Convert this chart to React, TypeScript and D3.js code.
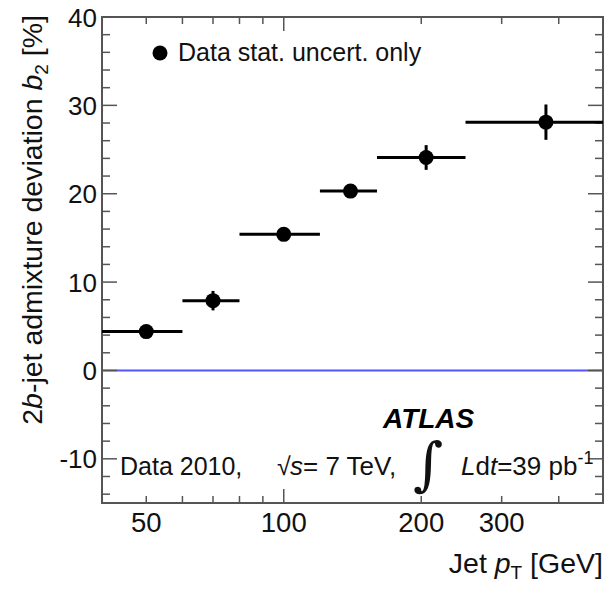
import React from "react";
import * as d3 from "d3";

const binLow = [40, 60, 80, 120, 160, 250];
const binHigh = [60, 80, 120, 160, 250, 500];
const ptCenter = [50, 70, 100, 140, 205, 375];
const b2Values = [4.4, 7.9, 15.4, 20.3, 24.1, 28.1];
const b2Errors = [0.7, 1.1, 0.6, 0.6, 1.4, 2.0];
const xTickLabels = [50, 100, 200, 300];
const xMinorTicks = [50, 60, 70, 80, 90, 200, 300, 400];
const xMajorTicks = [100];
const yLabels = [-10, 0, 10, 20, 30, 40];

const W = 606;
const H = 590;
const L = 102, R = 603, T = 17, B = 503;
const FONT = "'Liberation Sans', Arial, Helvetica, sans-serif";
const AX = "#555";

export default function App() {
  const x = d3.scaleLog().domain([40, 500]).range([L, R]);
  const y = d3.scaleLinear().domain([-15, 40]).range([B, T]);
  const yTicks = d3.range(-14, 41, 2);

  return (
    <svg width={W} height={H} style={{ position: "absolute", left: 0, top: 0 }} fontFamily={FONT}>
      <rect x={0} y={0} width={W} height={H} fill="#fff" />
      {/* zero line */}
      <line x1={L} x2={R} y1={y(0)} y2={y(0)} stroke="#5252ff" strokeWidth={2} />
      {/* frame */}
      <rect x={L} y={T} width={R - L} height={B - T} fill="none" stroke={AX} strokeWidth={2} />
      {/* y ticks */}
      {yTicks.map((v) => {
        const len = v % 10 === 0 ? 15 : 8;
        return (
          <g key={"yt" + v}>
            <line x1={L} x2={L + len} y1={y(v)} y2={y(v)} stroke={AX} strokeWidth={1.5} />
            <line x1={R} x2={R - len} y1={y(v)} y2={y(v)} stroke={AX} strokeWidth={1.5} />
          </g>
        );
      })}
      {/* x ticks */}
      {xMinorTicks.map((v) => (
        <g key={"xm" + v}>
          <line x1={x(v)} x2={x(v)} y1={B} y2={B - 7} stroke={AX} strokeWidth={1.5} />
          <line x1={x(v)} x2={x(v)} y1={T} y2={T + 7} stroke={AX} strokeWidth={1.5} />
        </g>
      ))}
      {xMajorTicks.map((v) => (
        <g key={"xM" + v}>
          <line x1={x(v)} x2={x(v)} y1={B} y2={B - 14} stroke={AX} strokeWidth={1.5} />
          <line x1={x(v)} x2={x(v)} y1={T} y2={T + 14} stroke={AX} strokeWidth={1.5} />
        </g>
      ))}
      {/* y labels */}
      {yLabels.map((v) => (
        <text key={"yl" + v} x={97} y={y(v) + 9.5} textAnchor="end" fontSize={26} fill="#111">
          {v}
        </text>
      ))}
      {/* x labels */}
      {xTickLabels.map((v) => (
        <text key={"xl" + v} x={x(v)} y={532} textAnchor="middle" fontSize={27.5} fill="#111">
          {v}
        </text>
      ))}
      {/* data */}
      {b2Values.map((v, i) => (
        <g key={"d" + i}>
          <line x1={x(binLow[i])} x2={x(binHigh[i])} y1={y(v)} y2={y(v)} stroke="#000" strokeWidth={3} />
          <line x1={x(ptCenter[i])} x2={x(ptCenter[i])} y1={y(v - b2Errors[i])} y2={y(v + b2Errors[i])} stroke="#000" strokeWidth={3} />
          <circle cx={x(ptCenter[i])} cy={y(v)} r={7.5} fill="#000" />
        </g>
      ))}
      {/* legend */}
      <circle cx={160} cy={53} r={7.5} fill="#000" />
      <text x={178} y={61} fontSize={25} fill="#111">Data stat. uncert. only</text>
      {/* ATLAS */}
      <text x={383} y={428} fontSize={28} fontWeight="bold" fontStyle="italic" fill="#000">ATLAS</text>
      {/* annotation */}
      <text x={120} y={475} fontSize={25} fill="#111">Data 2010,</text>
      <text x={277} y={475} fontSize={25} fill="#111">√</text>
      <text x={290} y={475} fontSize={26} fill="#111">
        <tspan fontStyle="italic">s</tspan>= 7 TeV,
      </text>
      <text x={413} y={484} fontSize={58} fontFamily="'DejaVu Serif', serif" fontStyle="italic" fill="#111">∫</text>
      <text x={461} y={475} fontSize={26} fill="#111">
        <tspan fontStyle="italic">L</tspan>d<tspan fontStyle="italic">t</tspan>=39 pb
        <tspan fontSize={18} dy={-11}>-1</tspan>
      </text>
      {/* x title */}
      <text x={603} y={573} textAnchor="end" fontSize={28.5} fill="#111">
        Jet <tspan fontStyle="italic">p</tspan>
        <tspan fontSize={19} dy={6}>T</tspan>
        <tspan dy={-6}> [GeV]</tspan>
      </text>
      {/* y title */}
      <text transform="translate(42,15) rotate(-90)" textAnchor="end" fontSize={28.5} fill="#111">
        2<tspan fontStyle="italic">b</tspan>-jet admixture deviation <tspan fontStyle="italic">b</tspan>
        <tspan fontSize={19} dy={6}>2</tspan>
        <tspan dy={-6}> [%]</tspan>
      </text>
    </svg>
  );
}
